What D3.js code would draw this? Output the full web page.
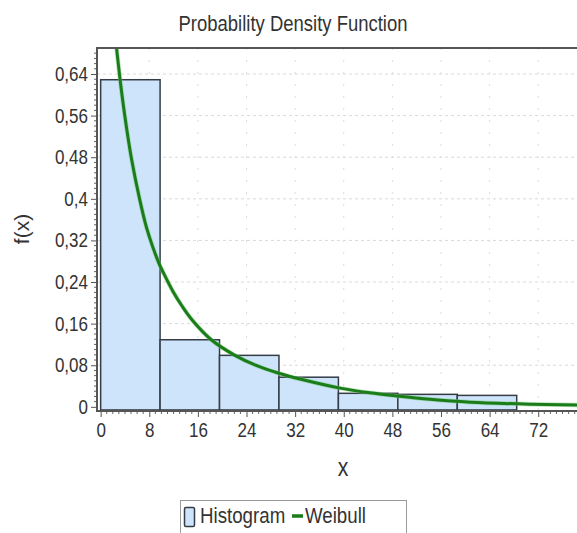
<!DOCTYPE html>
<html>
<head>
<meta charset="utf-8">
<script src="https://cdn.jsdelivr.net/npm/d3@7"></script>
<style>
  html, body { margin: 0; padding: 0; background: #fff; }
  svg { display: block; }
  text { font-family: "Liberation Sans", Arial, sans-serif; fill: #333; }
</style>
</head>
<body>
<svg id="chart" width="577" height="533"></svg>
<script>
// Histogram bins (lower/upper edges) and relative frequencies
const binStart = [0, 9.78, 19.56, 29.34, 39.12, 48.9, 58.68];
const binEnd   = [9.78, 19.56, 29.34, 39.12, 48.9, 58.68, 68.46];
const binFreq  = [0.629, 0.129, 0.099, 0.057, 0.026, 0.024, 0.022];

// Fitted Weibull curve, sampled along x
const weibullX = [2.2, 3.14, 3.97, 5.06, 6.44, 7.54, 8.5, 9.6, 10.7, 11.9, 13.5, 15.2, 18.2, 22.1, 25.5, 29.2, 33.3, 39.4, 44.3, 48.7, 54.2, 60.8, 70.7, 78.3, 84];
const weibullY = [0.735, 0.635, 0.56, 0.478, 0.398, 0.345, 0.31, 0.276, 0.249, 0.222, 0.192, 0.165, 0.129, 0.099, 0.08, 0.065, 0.052, 0.036, 0.027, 0.021, 0.0145, 0.009, 0.005, 0.0033, 0.0022];

// Axis ticks
const xTickValues = [0, 8, 16, 24, 32, 40, 48, 56, 64, 72];
const yTickValues = [0, 0.08, 0.16, 0.24, 0.32, 0.4, 0.48, 0.56, 0.64];
const yTickLabels = ["0", "0,08", "0,16", "0,24", "0,32", "0,4", "0,48", "0,56", "0,64"];

const svg = d3.select("#chart");
const pLeft = 97, pTop = 48, pBottom = 411, pRight = 599;

const x = d3.scaleLinear().domain([-0.6, 82]).range([pLeft, pRight]);
const y = d3.scaleLinear().domain([-0.008, 0.69]).range([pBottom, pTop]);

// Condensed look for all labels: squeeze glyphs horizontally
function condense(sel, f) {
  sel.each(function () {
    const w = this.getComputedTextLength();
    d3.select(this).attr("textLength", w * f).attr("lengthAdjust", "spacingAndGlyphs");
  });
}

// Title
svg.append("text")
  .attr("x", 293).attr("y", 31)
  .attr("text-anchor", "middle")
  .style("font-size", "22px")
  .text("Probability Density Function")
  .call(condense, 0.84);

// Clip for the plot area
svg.append("clipPath").attr("id", "plotClip")
  .append("rect").attr("x", pLeft).attr("y", pTop)
  .attr("width", pRight - pLeft).attr("height", pBottom - pTop);

const plot = svg.append("g").attr("clip-path", "url(#plotClip)");

// Dashed grid
plot.append("g").selectAll("line").data(yTickValues.slice(1)).join("line")
  .attr("x1", pLeft).attr("x2", pRight)
  .attr("y1", d => y(d)).attr("y2", d => y(d))
  .attr("stroke", "#d9d9d9").attr("stroke-width", 1)
  .attr("stroke-dasharray", "3,3");
plot.append("g").selectAll("line").data(xTickValues.slice(1)).join("line")
  .attr("x1", d => x(d)).attr("x2", d => x(d))
  .attr("y1", pTop).attr("y2", pBottom)
  .attr("stroke", "#dcdcdc").attr("stroke-width", 1)
  .attr("stroke-dasharray", "2,10");

// Histogram bars
plot.append("g").selectAll("rect").data(binFreq).join("rect")
  .attr("x", (d, i) => x(binStart[i]))
  .attr("width", (d, i) => x(binEnd[i]) - x(binStart[i]))
  .attr("y", d => y(d))
  .attr("height", d => y(-0.006) - y(d))
  .attr("fill", "#cde4fa")
  .attr("stroke", "#353c46")
  .attr("stroke-width", 1.5);

// Weibull density curve
const pts = weibullX.map((v, i) => [v, weibullY[i]]);
const line = d3.line().x(d => x(d[0])).y(d => y(d[1])).curve(d3.curveCatmullRom.alpha(0.5));
plot.append("path").datum(pts)
  .attr("d", line)
  .attr("fill", "none")
  .attr("stroke", "#7fc77f").attr("stroke-width", 4.5).attr("stroke-opacity", 0.5);
plot.append("path").datum(pts)
  .attr("d", line)
  .attr("fill", "none")
  .attr("stroke", "#1a7d1a").attr("stroke-width", 3);

// Plot frame: top edge
svg.append("line")
  .attr("x1", pLeft).attr("x2", 577).attr("y1", pTop).attr("y2", pTop)
  .attr("stroke", "#555").attr("stroke-width", 2);

// Y axis
const yAxis = d3.axisLeft(y)
  .tickValues(yTickValues)
  .tickFormat((d, i) => yTickLabels[i])
  .tickSize(6).tickPadding(3);
const gy = svg.append("g").attr("transform", `translate(${pLeft},0)`).call(yAxis);
gy.select(".domain").remove();
gy.selectAll(".tick line").attr("stroke", "#555");
gy.selectAll(".tick text").style("font-size", "20px").attr("fill", "#333")
  .style("font-family", '"Liberation Sans", Arial, sans-serif')
  .call(condense, 0.85);
const yMinor = d3.range(0, 0.69, 0.01).filter(v => !yTickValues.some(t => Math.abs(t - v) < 1e-6));
svg.append("g").selectAll("line").data(yMinor).join("line")
  .attr("x1", pLeft - 3).attr("x2", pLeft)
  .attr("y1", d => y(d)).attr("y2", d => y(d))
  .attr("stroke", "#666").attr("stroke-width", 1);
svg.append("line")
  .attr("x1", pLeft).attr("x2", pLeft).attr("y1", pTop - 1).attr("y2", pBottom + 1)
  .attr("stroke", "#555").attr("stroke-width", 2);

// X axis
const xAxis = d3.axisBottom(x)
  .tickValues(xTickValues)
  .tickFormat(d3.format("d"))
  .tickSize(6).tickPadding(6);
const gx = svg.append("g").attr("transform", `translate(0,${pBottom})`).call(xAxis);
gx.select(".domain").remove();
gx.selectAll(".tick line").attr("stroke", "#555");
gx.selectAll(".tick text").style("font-size", "20px").attr("fill", "#333")
  .style("font-family", '"Liberation Sans", Arial, sans-serif')
  .call(condense, 0.85);
const xMinor = d3.range(1, 82, 1).filter(v => v % 8 !== 0);
svg.append("g").selectAll("line").data(xMinor).join("line")
  .attr("x1", d => x(d)).attr("x2", d => x(d))
  .attr("y1", pBottom).attr("y2", pBottom + 3)
  .attr("stroke", "#666").attr("stroke-width", 1);
svg.append("line")
  .attr("x1", pLeft - 1).attr("x2", 577).attr("y1", pBottom).attr("y2", pBottom)
  .attr("stroke", "#555").attr("stroke-width", 2);

// Axis titles
svg.append("text")
  .attr("x", 343).attr("y", 476)
  .attr("text-anchor", "middle")
  .style("font-size", "25px")
  .text("x")
  .call(condense, 0.85);
svg.append("text")
  .attr("transform", "translate(29,229) rotate(-90)")
  .attr("text-anchor", "middle")
  .style("font-size", "21px")
  .text("f(x)");

// Legend
const lg = svg.append("g");
lg.append("rect")
  .attr("x", 180.5).attr("y", 500.5).attr("width", 226).attr("height", 40)
  .attr("fill", "#fff").attr("stroke", "#9a9a9a").attr("stroke-width", 1);
lg.append("rect")
  .attr("x", 184.5).attr("y", 507.5).attr("width", 10).attr("height", 19).attr("rx", 1.5)
  .attr("fill", "#cde4fa").attr("stroke", "#353c46").attr("stroke-width", 1.5);
lg.append("text")
  .attr("x", 200).attr("y", 523)
  .style("font-size", "22px")
  .text("Histogram")
  .call(condense, 0.85);
lg.append("line")
  .attr("x1", 292).attr("x2", 303).attr("y1", 516).attr("y2", 516)
  .attr("stroke", "#1a7d1a").attr("stroke-width", 3.5);
lg.append("text")
  .attr("x", 305).attr("y", 523)
  .style("font-size", "22px")
  .text("Weibull")
  .call(condense, 0.85);
</script>
</body>
</html>
